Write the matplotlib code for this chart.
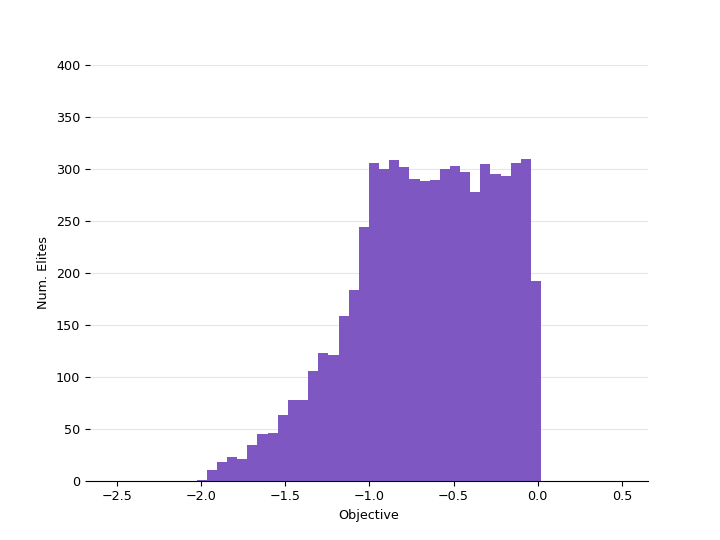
import matplotlib
matplotlib.use("Agg")
import matplotlib.pyplot as plt
import numpy as np

plt.rcParams["font.size"] = 9.2

# histogram bin edges and counts
bin_start = -2.026
bin_end = 0.02
counts = [1, 10, 18, 23, 21, 34, 45, 46, 63, 78, 78, 105, 123, 121, 158, 183,
          244, 306, 300, 308, 302, 290, 288, 289, 300, 303, 297, 278, 305, 295,
          293, 306, 309, 192]
edges = np.linspace(bin_start, bin_end, len(counts) + 1)

fig, ax = plt.subplots(figsize=(7.2, 5.4), dpi=100)
ax.hist(edges[:-1], bins=edges, weights=counts, color="#7E57C2")

ax.set_xlim(-2.66, 0.655)
ax.set_ylim(0, 400)
ax.set_xticks([-2.5, -2.0, -1.5, -1.0, -0.5, 0.0, 0.5])
ax.set_yticks(range(0, 401, 50))
ax.yaxis.grid(True, color="#e6e6e6", linewidth=0.8)
ax.set_axisbelow(True)
for s in ["top", "right", "left"]:
    ax.spines[s].set_visible(False)
ax.set_xlabel("Objective")
ax.set_ylabel("Num. Elites")

fig.savefig("out.png", dpi=100)
